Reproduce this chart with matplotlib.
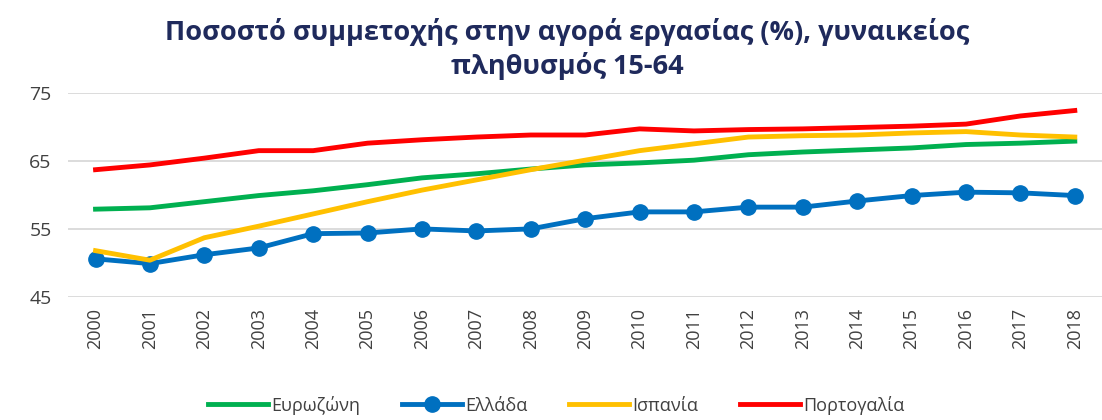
import matplotlib
matplotlib.use("Agg")
import matplotlib.pyplot as plt

plt.rcParams["font.family"] = ["Open Sans", "DejaVu Sans"]

years = [str(y) for y in range(2000, 2019)]
eurozone = [57.9, 58.1, 59.0, 59.9, 60.6, 61.5, 62.5, 63.1, 63.8, 64.4, 64.7, 65.1, 65.9, 66.3, 66.6, 66.9, 67.4, 67.6, 67.9]
greece = [50.6, 49.9, 51.2, 52.2, 54.3, 54.4, 55.0, 54.7, 55.0, 56.5, 57.5, 57.5, 58.2, 58.2, 59.1, 59.9, 60.4, 60.3, 59.9]
spain = [51.8, 50.4, 53.7, 55.4, 57.2, 59.0, 60.7, 62.2, 63.7, 65.1, 66.5, 67.5, 68.5, 68.7, 68.8, 69.1, 69.3, 68.8, 68.5]
portugal = [63.7, 64.4, 65.4, 66.5, 66.5, 67.6, 68.1, 68.5, 68.8, 68.8, 69.7, 69.4, 69.6, 69.7, 69.9, 70.1, 70.4, 71.6, 72.4]

fig = plt.figure(figsize=(11.02, 4.2), dpi=100)
ax = fig.add_axes([0.062, 0.293, 0.938, 0.486])

x = range(len(years))
ax.plot(x, eurozone, color="#00B050", lw=3.5, label="Ευρωζώνη", zorder=3)
ax.plot(x, greece, color="#0070C0", lw=3.5, marker="o", markersize=11, label="Ελλάδα", zorder=3)
ax.plot(x, spain, color="#FFC000", lw=3.5, label="Ισπανία", zorder=3)
ax.plot(x, portugal, color="#FF0000", lw=3.5, label="Πορτογαλία", zorder=3)

ax.set_xlim(-0.5, len(years) - 0.5)
ax.set_ylim(45, 75)
ax.set_yticks([45, 55, 65, 75])
ax.set_xticks(list(x))
ax.set_xticklabels(years, rotation=90)
ax.tick_params(axis="both", length=0, labelsize=13, labelcolor="#404040")
ax.tick_params(axis="y", labelsize=14, pad=12)
ax.tick_params(axis="x", pad=8)
ax.grid(axis="y", color="#D9D9D9", lw=1.3)
ax.set_axisbelow(True)
for s in ax.spines.values():
    s.set_visible(False)

fig.text(0.515, 0.883, "Ποσοστό συμμετοχής στην αγορά εργασίας (%), γυναικείος\nπληθυσμός 15-64",
         ha="center", va="center", fontsize=19.5, fontweight="bold", color="#1F2A5C", linespacing=1.25)

fig.legend(loc="center", bbox_to_anchor=(0.505, 0.035), ncol=4, frameon=False, fontsize=13,
           handlelength=3.3, columnspacing=2.3, handletextpad=0.2, labelcolor="#404040")

fig.savefig("out.png", dpi=100)
